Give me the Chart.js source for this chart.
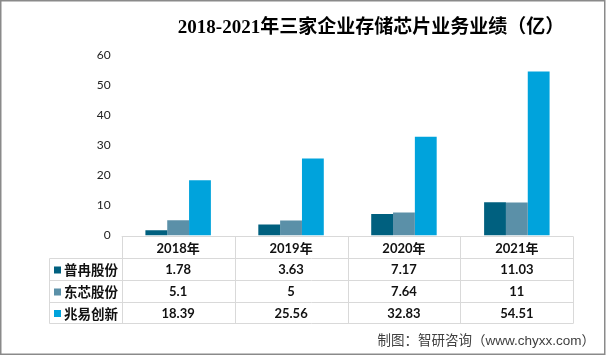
<!DOCTYPE html>
<html>
<head>
<meta charset="utf-8">
<script src="https://cdn.jsdelivr.net/npm/chart.js@4/dist/chart.umd.min.js"></script>
<style>
  html, body { margin: 0; padding: 0; background: #ffffff; }
  #wrap { width: 606px; height: 356px; }
  canvas { display: block; }
</style>
</head>
<body>
<div id="wrap"><canvas id="c" width="606" height="356" style="width:606px;height:356px"></canvas></div>
<script>
const titleText = '2018-2021年三家企业存储芯片业务业绩（亿）';
const sourceText = '制图：智研咨询（www.chyxx.com）';
const categories = ['2018年', '2019年', '2020年', '2021年'];
const seriesNames = ['普冉股份', '东芯股份', '兆易创新'];
const puranValues = [1.78, 3.63, 7.17, 11.03];
const dongxinValues = [5.1, 5, 7.64, 11];
const zhaoyiValues = [18.39, 25.56, 32.83, 54.51];
const seriesColors = ['#00607F', '#5B90A8', '#00A3DC'];
const yMin = 0, yMax = 60, yStep = 10;

const seriesValues = [puranValues, dongxinValues, zhaoyiValues];
const CJK = '"Noto Sans CJK SC"';

const tablePlugin = {
  id: 'tablePlugin',
  beforeDraw(chart) {
    const ctx = chart.ctx;
    ctx.save();
    ctx.fillStyle = '#ffffff';
    ctx.fillRect(0, 0, chart.width, chart.height);
    ctx.restore();
  },
  afterDraw(chart) {
    const ctx = chart.ctx;
    const area = chart.chartArea;
    const xs = chart.scales.x;
    const n = categories.length;
    const colW = (area.right - area.left) / n;
    const legendLeft = 49.5;
    const top = Math.round(area.bottom) + 0.5;
    const rowH = [22, 22, 22, 21];
    const rowY = [top];
    for (let i = 0; i < rowH.length; i++) rowY.push(rowY[i] + rowH[i]);
    const bottom = rowY[rowY.length - 1];

    ctx.save();
    // grid lines
    ctx.strokeStyle = '#d9d9d9';
    ctx.lineWidth = 1;
    ctx.beginPath();
    ctx.moveTo(area.left, rowY[0]); ctx.lineTo(area.right, rowY[0]);
    for (let i = 1; i < rowY.length; i++) {
      ctx.moveTo(legendLeft, rowY[i]); ctx.lineTo(area.right, rowY[i]);
    }
    ctx.moveTo(legendLeft, rowY[1]); ctx.lineTo(legendLeft, bottom);
    for (let i = 0; i <= n; i++) {
      const x = Math.round(area.left + i * colW) + 0.5;
      ctx.moveTo(x, rowY[0]); ctx.lineTo(x, bottom);
    }
    ctx.stroke();

    // header labels
    ctx.fillStyle = '#111111';
    ctx.textAlign = 'center';
    ctx.textBaseline = 'middle';
    ctx.font = 'bold 13px Lato, ' + CJK;
    categories.forEach((c, i) => {
      const x = xs.getPixelForValue(i);
      ctx.fillText(c, x, (rowY[0] + rowY[1]) / 2 + 1);
    });
    // rows
    seriesNames.forEach((name, r) => {
      const cy = (rowY[r + 1] + rowY[r + 2]) / 2 + 0.5;
      ctx.fillStyle = seriesColors[r];
      ctx.fillRect(54, cy - 3.5, 7, 7);
      ctx.fillStyle = '#111111';
      ctx.textAlign = 'left';
      ctx.font = 'bold 13.5px ' + CJK;
      ctx.fillText(name, 64, cy);
      ctx.textAlign = 'center';
      ctx.font = 'bold 13px Lato, ' + CJK;
      seriesValues[r].forEach((v, i) => {
        ctx.fillText(String(v), xs.getPixelForValue(i), cy);
      });
    });

    // title
    ctx.fillStyle = '#000000';
    ctx.textAlign = 'center';
    ctx.textBaseline = 'middle';
    ctx.font = 'bold 19px "Liberation Serif", ' + CJK;
    ctx.fillText(titleText, 371, 28);

    // source
    ctx.fillStyle = '#404040';
    ctx.textAlign = 'right';
    ctx.font = '13.5px "Liberation Sans", ' + CJK;
    ctx.fillText(sourceText, 595, 341);

    // frame
    ctx.strokeStyle = '#8a8a8a';
    ctx.lineWidth = 1.5;
    ctx.strokeRect(0.75, 0.75, 604, 353.5);
    ctx.restore();
  }
};

new Chart(document.getElementById('c'), {
  type: 'bar',
  data: {
    labels: categories,
    datasets: seriesNames.map((name, i) => ({
      label: name,
      data: seriesValues[i],
      backgroundColor: seriesColors[i],
      borderWidth: 0,
      categoryPercentage: 0.58,
      barPercentage: 1.0
    }))
  },
  options: {
    responsive: false,
    animation: false,
    devicePixelRatio: 1,
    layout: { padding: { left: 0, right: 32.7, top: 55, bottom: 120.5 } },
    plugins: {
      legend: { display: false },
      title: { display: false },
      tooltip: { enabled: false }
    },
    scales: {
      x: { display: false, offset: true },
      y: {
        min: yMin,
        max: yMax,
        ticks: {
          stepSize: yStep,
          color: '#222222',
          font: { family: 'Lato', size: 12 },
          padding: 11
        },
        grid: { display: false, drawTicks: false },
        border: { display: false },
        afterFit(scale) { scale.width = 121.7; }
      }
    }
  },
  plugins: [tablePlugin]
});
</script>
</body>
</html>
